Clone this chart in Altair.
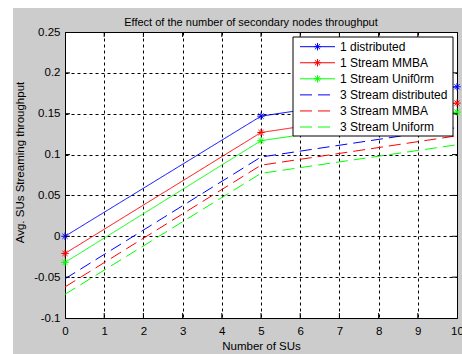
import altair as alt
import pandas as pd

# ---- data ----
x_values = [0, 5, 10]
series_names = [
    "1 distributed",
    "1 Stream MMBA",
    "1 Stream Unif0rm",
    "3 Stream distributed",
    "3 Stream MMBA",
    "3 Stream Uniform",
]
s1_distributed = [0.0, 0.147, 0.183]
s1_mmba = [-0.021, 0.127, 0.163]
s1_uniform = [-0.032, 0.117, 0.152]
s3_distributed = [-0.052, 0.097, 0.133]
s3_mmba = [-0.062, 0.087, 0.123]
s3_uniform = [-0.071, 0.077, 0.112]
marker_series = series_names[:3]

x_ticks = list(range(11))
y_ticks = [-0.1, -0.05, 0, 0.05, 0.1, 0.15, 0.2, 0.25]

title_text = "Effect of the number of secondary nodes throughput"
x_title = "Number of SUs"
y_title = "Avg. SUs Streaming throughput"

# ---- styling ----
series_colors = ["#0000ff", "#ff0000", "#00ff00", "#0000ff", "#ff0000", "#00ff00"]
series_dashes = [[1, 0], [1, 0], [1, 0], [12, 6], [12, 6], [12, 6]]
FONT = "Liberation Sans"
FS = 11.5
W, H = 392, 286
STAR = "M-1,0L1,0M0,-1L0,1M-0.7,-0.7L0.7,0.7M-0.7,0.7L0.7,-0.7"

all_series = [s1_distributed, s1_mmba, s1_uniform, s3_distributed, s3_mmba, s3_uniform]
rows = []
for name, vals in zip(series_names, all_series):
    for xv, yv in zip(x_values, vals):
        rows.append({"series": name, "x": xv, "y": yv})
df = pd.DataFrame(rows)
df_marked = df[df["series"].isin(marker_series)]

color_scale = alt.Scale(domain=series_names, range=series_colors)
dash_scale = alt.Scale(domain=series_names, range=series_dashes)

x_enc = alt.X(
    "x:Q",
    scale=alt.Scale(domain=[0, 10], nice=False),
    axis=alt.Axis(
        values=x_ticks, grid=True, gridDash=[3, 3], gridColor="#000000", gridOpacity=1,
        tickSize=0, domain=False, labelPadding=7, labelFont=FONT, labelFontSize=FS,
        labelColor="#000000", labelOverlap=False, labelFlush=False,
        title=x_title, titleFont=FONT, titleFontSize=FS,
        titleFontWeight="normal", titleColor="#000000", titleY=28, titleBaseline="middle",
    ),
)
y_enc = alt.Y(
    "y:Q",
    scale=alt.Scale(domain=[-0.1, 0.25], nice=False, zero=False),
    axis=alt.Axis(
        values=y_ticks, labelExpr="toString(datum.value)", grid=True, gridDash=[3, 3],
        gridColor="#000000", gridOpacity=1, tickSize=0, domain=False, labelPadding=5,
        labelFont=FONT, labelFontSize=FS, labelColor="#000000",
        labelOverlap=False, labelFlush=False, title=y_title,
        titleFont=FONT, titleFontSize=FS, titleFontWeight="normal", titleColor="#000000",
        titleX=-45, titleY=130, titleAlign="center", titleBaseline="middle", titleAngle=-90,
    ),
)

one = pd.DataFrame({"k": [0]})

# white strips at the left and top of the page (outside the grey figure)
strip_left = alt.Chart(one).mark_rect(fill="white", clip=False).encode(
    x=alt.value(-65), x2=alt.value(-52), y=alt.value(-32), y2=alt.value(H + 36)
)
strip_top = alt.Chart(one).mark_rect(fill="white", clip=False).encode(
    x=alt.value(-65), x2=alt.value(W + 5), y=alt.value(-32), y2=alt.value(-24)
)

lines = alt.Chart(df).mark_line(strokeWidth=1, clip=False).encode(
    x=x_enc,
    y=y_enc,
    color=alt.Color("series:N", scale=color_scale, legend=None),
    strokeDash=alt.StrokeDash("series:N", scale=dash_scale, legend=None),
    detail="series:N",
)
points = alt.Chart(df_marked).mark_point(
    shape=STAR, filled=False, size=55, strokeWidth=1, opacity=1, clip=False
).encode(
    x=x_enc, y=y_enc,
    color=alt.Color("series:N", scale=color_scale, legend=None),
)

# inward tick marks on all four sides
xt = pd.DataFrame({"x": x_ticks[1:-1]})
yt = pd.DataFrame({"y": y_ticks[1:-1]})
tick_top = alt.Chart(xt).mark_rule(color="black", strokeWidth=1).encode(
    x=x_enc, y=alt.value(0), y2=alt.value(5))
tick_bot = alt.Chart(xt).mark_rule(color="black", strokeWidth=1).encode(
    x=x_enc, y=alt.value(H), y2=alt.value(H - 5))
tick_left = alt.Chart(yt).mark_rule(color="black", strokeWidth=1).encode(
    y=y_enc, x=alt.value(0), x2=alt.value(5))
tick_right = alt.Chart(yt).mark_rule(color="black", strokeWidth=1).encode(
    y=y_enc, x=alt.value(W), x2=alt.value(W - 5))

# legend built from the series names
leg_df = pd.DataFrame({"series": series_names, "row": list(range(len(series_names)))})
leg_box = alt.Chart(one).mark_rect(fill="white", stroke="black", strokeWidth=1).encode(
    x=alt.value(228), x2=alt.value(388), y=alt.value(5), y2=alt.value(104)
)
leg_base = alt.Chart(leg_df).transform_calculate(ly="14.7 + datum.row * 16.06")
leg_lines = leg_base.mark_rule(strokeWidth=1).encode(
    x=alt.value(235), x2=alt.value(270),
    y=alt.Y("ly:Q", scale=None),
    color=alt.Color("series:N", scale=color_scale, legend=None),
    strokeDash=alt.StrokeDash("series:N", scale=dash_scale, legend=None),
)
leg_stars = leg_base.transform_filter(
    alt.FieldOneOfPredicate(field="series", oneOf=marker_series)
).mark_point(shape=STAR, filled=False, size=55, strokeWidth=1, opacity=1).encode(
    x=alt.value(252.5),
    y=alt.Y("ly:Q", scale=None),
    color=alt.Color("series:N", scale=color_scale, legend=None),
)
leg_text = leg_base.mark_text(
    align="left", baseline="middle", font=FONT, fontSize=12, color="#000000"
).encode(
    x=alt.value(275), y=alt.Y("ly:Q", scale=None), text="series:N"
)

chart = alt.layer(
    strip_left, strip_top, lines, points, tick_top, tick_bot, tick_left, tick_right,
    leg_box, leg_lines, leg_stars, leg_text,
).properties(
    width=W, height=H,
    title=alt.TitleParams(
        title_text, font=FONT, fontSize=11, fontWeight="normal", color="#000000",
        anchor="middle", frame="group", offset=0, dx=-10, dy=28,
    ),
    background="#cccccc",
    autosize=alt.AutoSizeParams(type="none"),
    padding={"left": 65, "top": 32, "right": 5, "bottom": 36},
).resolve_scale(
    color="shared", strokeDash="shared"
).configure_view(
    stroke="black", strokeWidth=1, fill="white"
)

chart.save("out.html", embed_options={"renderer": "svg", "actions": False})
